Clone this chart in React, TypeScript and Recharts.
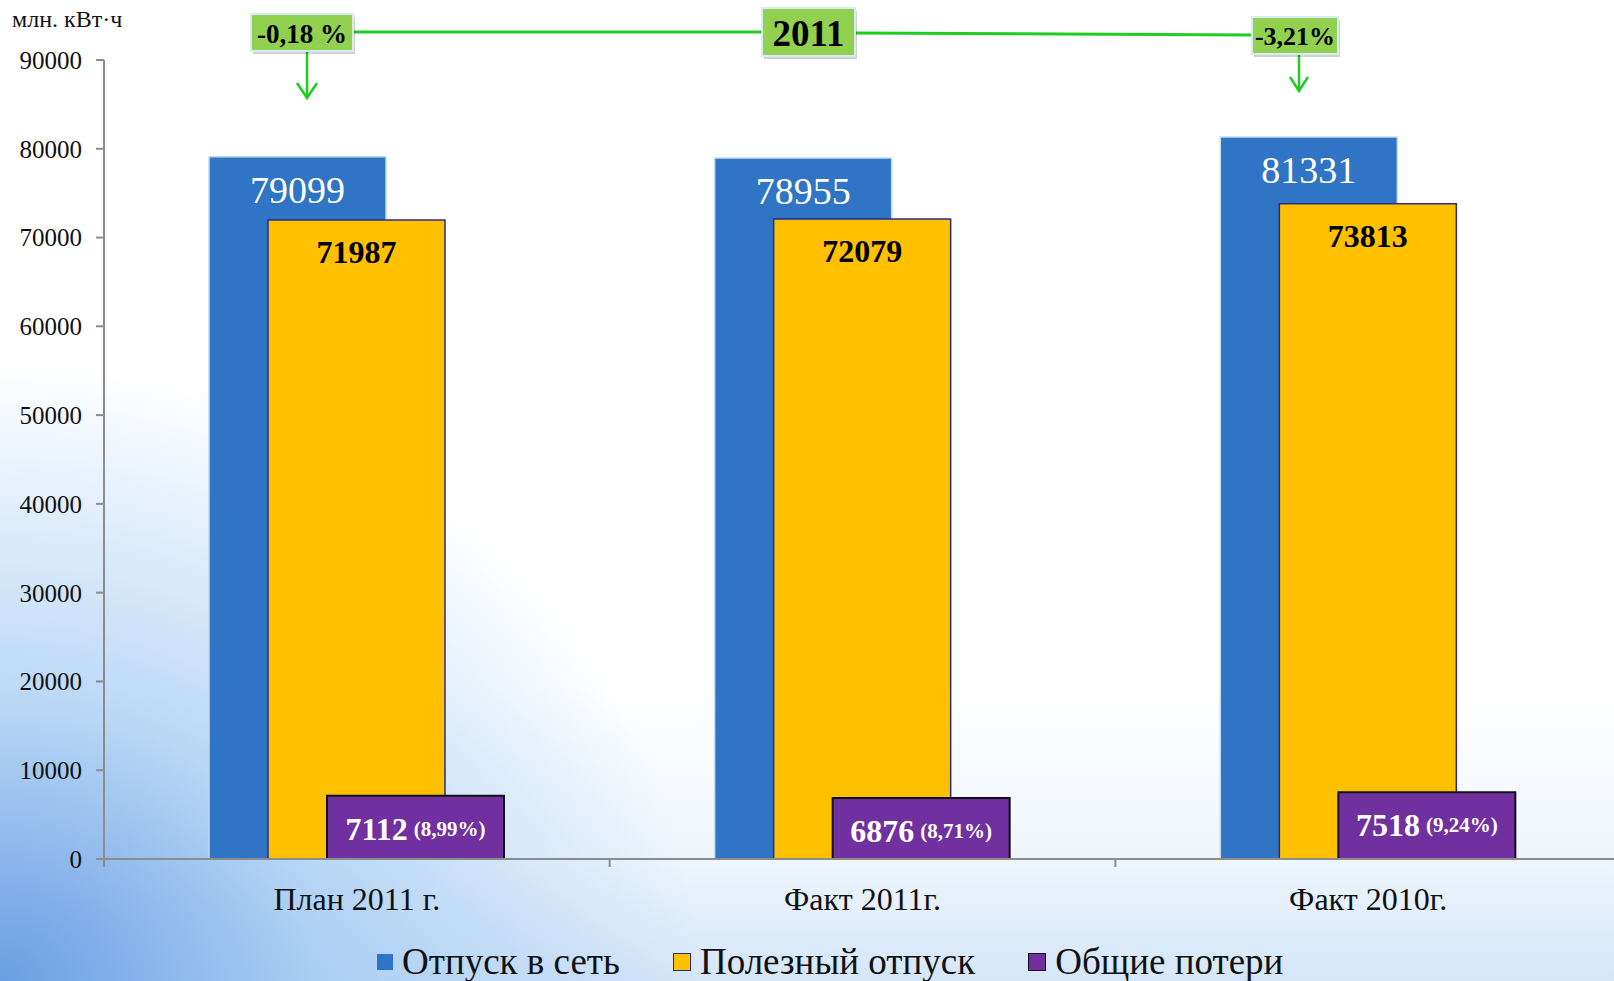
import React from 'react'
import { Bar, BarChart, LabelList, XAxis, YAxis } from 'recharts'

const categories = ['План 2011 г.', 'Факт 2011г.', 'Факт 2010г.']
const otpuskVSet = [79099, 78955, 81331]
const poleznyiOtpusk = [71987, 72079, 73813]
const obshiePoteri = [7112, 6876, 7518]
const poteriPct = ['(8,99%)', '(8,71%)', '(9,24%)']
const seriesNames = ['Отпуск в сеть', 'Полезный отпуск', 'Общие потери']
const seriesColors = ['#2F74C5', '#FFC000', '#7030A0']
const yTicks = [0, 10000, 20000, 30000, 40000, 50000, 60000, 70000, 80000, 90000]

const data = categories.map((name, i) => ({
  name,
  otpusk: otpuskVSet[i],
  polezny: poleznyiOtpusk[i],
  poteri: obshiePoteri[i],
}))

const FONT = '"Liberation Serif", "Times New Roman", serif'
const CHART_W = 1621
const Y_AXIS_W = 104
const BAND = (CHART_W - Y_AXIS_W) / categories.length

const BlueLabel = (p: any) => (
  <text x={p.x + p.width / 2} y={p.y + 33} fill="#fff" fontSize={38} fontFamily={FONT}
    textAnchor="middle" dominantBaseline="central">{p.value}</text>
)

const YellowLabel = (p: any) => (
  <text x={p.x + p.width / 2} y={p.y + 32} fill="#000" fontSize={32} fontWeight="bold" fontFamily={FONT}
    textAnchor="middle" dominantBaseline="central">{p.value}</text>
)

const PurpleLabel = (p: any) => (
  <text x={p.x + p.width / 2} y={p.y + 33} fill="#fff" fontWeight="bold" fontFamily={FONT}
    textAnchor="middle" dominantBaseline="central">
    <tspan fontSize={32}>{p.value}</tspan>
    <tspan fontSize={21} dx={6}>{poteriPct[p.index]}</tspan>
  </text>
)

const CategoryTick = (p: any) => (
  <g>
    <line x1={p.x - BAND / 2} x2={p.x - BAND / 2} y1={p.y} y2={p.y + 8} stroke="#8c8c8c" strokeWidth={2} />
    <text x={p.x} y={p.y + 40} fontSize={32} fontFamily={FONT} fill="#111"
      textAnchor="middle" dominantBaseline="central">{p.payload.value}</text>
  </g>
)

function Badge({ x, y, w, h, text, size }: { x: number; y: number; w: number; h: number; text: string; size: number }) {
  return (
    <g>
      <rect x={x + 2} y={y + 3} width={w} height={h} fill="rgba(0,0,0,0.18)" />
      <rect x={x} y={y} width={w} height={h} fill="#92D050" stroke="#d6ecf3" strokeWidth={2} />
      <text x={x + w / 2} y={y + h / 2 + 1} fontSize={size} fontWeight="bold" fontFamily={FONT}
        textAnchor="middle" dominantBaseline="central" fill="#000">{text}</text>
    </g>
  )
}

export default function App() {
  return (
    <div
      style={{
        position: 'relative',
        width: 1614,
        height: 981,
        overflow: 'hidden',
        background:
          'radial-gradient(ellipse 700px 620px at 0% 100%, rgba(95,150,225,0.9) 0%, rgba(140,190,240,0.6) 45%, rgba(255,255,255,0) 100%),' +
          'linear-gradient(to top, #d4e6f8 0%, #eef5fc 12%, #ffffff 30%, #ffffff 100%)',
      }}
    >
      <style>{'body{margin:0}'}</style>
      <div style={{ position: 'absolute', left: 12, top: 6, fontSize: 24, fontFamily: FONT, color: '#111' }}>
        млн. кВт·ч
      </div>
      <div style={{ position: 'absolute', left: 0, top: 0 }}>
        <BarChart
          width={CHART_W}
          height={981}
          data={data}
          margin={{ top: 60, right: 0, bottom: 62, left: 0 }}
          barSize={177}
          barGap={-118}
        >
          <XAxis dataKey="name" height={60} axisLine={{ stroke: '#8c8c8c', strokeWidth: 2 }}
            tickLine={false} tickSize={0} tickMargin={0} tick={<CategoryTick />} interval={0} />
          <YAxis domain={[0, 90000]} ticks={yTicks} width={Y_AXIS_W} interval={0}
            axisLine={{ stroke: '#8c8c8c', strokeWidth: 2 }} tickLine={{ stroke: '#8c8c8c', strokeWidth: 2 }}
            tickSize={8} tickMargin={14}
            tick={{ fontSize: 25, fontFamily: FONT, fill: '#111' }} />
          <Bar dataKey="otpusk" name={seriesNames[0]} fill={seriesColors[0]} stroke="#c3dcec" strokeWidth={1.5}
            isAnimationActive={false}>
            <LabelList dataKey="otpusk" content={<BlueLabel />} />
          </Bar>
          <Bar dataKey="polezny" name={seriesNames[1]} fill={seriesColors[1]} stroke="#2b2b8c" strokeWidth={1.5}
            isAnimationActive={false}>
            <LabelList dataKey="polezny" content={<YellowLabel />} />
          </Bar>
          <Bar dataKey="poteri" name={seriesNames[2]} fill={seriesColors[2]} stroke="#111" strokeWidth={2}
            isAnimationActive={false}>
            <LabelList dataKey="poteri" content={<PurpleLabel />} />
          </Bar>
        </BarChart>
      </div>
      <svg width={1614} height={110} style={{ position: 'absolute', left: 0, top: 0 }}>
        <line x1={353} y1={32} x2={762} y2={32} stroke="#1fcc1f" strokeWidth={3} />
        <line x1={855} y1={33} x2={1252} y2={35} stroke="#1fcc1f" strokeWidth={3} />
        <line x1={307} y1={51} x2={307} y2={98} stroke="#1fcc1f" strokeWidth={2.5} />
        <polyline points="297,83 307,98 317,83" fill="none" stroke="#1fcc1f" strokeWidth={2.5} />
        <line x1={1299} y1={54} x2={1299} y2={91} stroke="#1fcc1f" strokeWidth={2.5} />
        <polyline points="1290,77 1299,91 1308,77" fill="none" stroke="#1fcc1f" strokeWidth={2.5} />
        <Badge x={251} y={14} w={102} h={37} text="-0,18 %" size={27} />
        <Badge x={762} y={8} w={93} h={48} text="2011" size={37} />
        <Badge x={1252} y={17} w={86} h={37} text="-3,21%" size={26} />
      </svg>
      <div style={{ position: 'absolute', left: 377, top: 941, display: 'flex', alignItems: 'center', gap: 53,
        fontFamily: FONT, fontSize: 37, color: '#111', whiteSpace: 'nowrap', lineHeight: '42px' }}>
        {seriesNames.map((n, i) => (
          <div key={n} style={{ display: 'flex', alignItems: 'center', gap: 9 }}>
            <span style={{ display: 'inline-block', width: 16, height: 16, background: seriesColors[i],
              border: i === 0 ? 'none' : `1.5px solid ${i === 1 ? '#2b2b8c' : '#111'}` }} />
            <span>{n}</span>
          </div>
        ))}
      </div>
    </div>
  )
}
